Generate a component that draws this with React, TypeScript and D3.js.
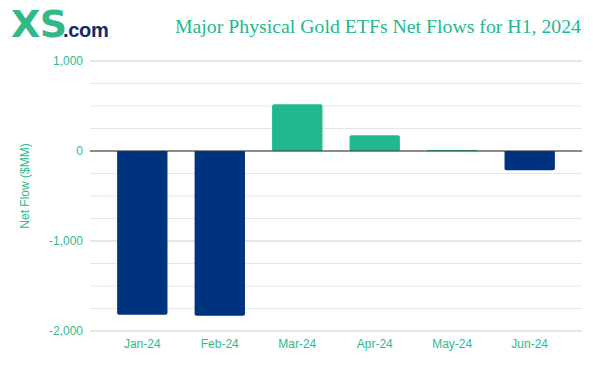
import React from "react";
import * as d3 from "d3";

const months = ["Jan-24", "Feb-24", "Mar-24", "Apr-24", "May-24", "Jun-24"];
const flows = [-1820, -1830, 520, 175, 12, -215];
const majorTicks = [1000, 0, -1000, -2000];
const minorTicks = d3.range(-2000, 1001, 250);

const W = 593;
const H = 371;
const GREEN = "#22b88f";
const NAVY = "#00337f";
const LABEL = "#2dbb8e";

export default function App() {
  const x = d3.scaleBand<string>().domain(months).range([90, 582]).paddingInner(0.35).paddingOuter(0.35);
  const y = d3.scaleLinear().domain([-2000, 1000]).range([331, 61]);
  const fmt = d3.format(",");
  const r = 2;

  const barPath = (m: string, v: number) => {
    const x0 = x(m)!;
    const w = x.bandwidth();
    const y0 = y(0);
    const y1 = y(v);
    const rr = Math.min(r, Math.abs(y1 - y0) / 2);
    if (v >= 0) {
      return `M${x0},${y0}V${y1 + rr}Q${x0},${y1} ${x0 + rr},${y1}H${x0 + w - rr}Q${x0 + w},${y1} ${x0 + w},${y1 + rr}V${y0}Z`;
    }
    return `M${x0},${y0}V${y1 - rr}Q${x0},${y1} ${x0 + rr},${y1}H${x0 + w - rr}Q${x0 + w},${y1} ${x0 + w},${y1 - rr}V${y0}Z`;
  };

  return (
    <svg width={W} height={H} style={{ display: "block", position: "absolute", left: 0, top: 0 }} fontFamily="Liberation Sans, Arial, sans-serif">
      <rect width={W} height={H} fill="#fff" />
      {/* logo */}
      <text x={11} y={37} fontFamily="DejaVu Sans, sans-serif" fontWeight="bold" fontSize={38} fill="#35b888" letterSpacing={-0.5}>XS</text>
      <text x={63} y={37} fontFamily="Liberation Sans, Arial, sans-serif" fontWeight="bold" fontSize={20} fill="#13296b" letterSpacing={-0.3}>.com</text>
      {/* title */}
      <text x={581} y={33} textAnchor="end" fontFamily="Liberation Serif, Times New Roman, serif" fontSize={19.8} fill={GREEN}>
        Major Physical Gold ETFs Net Flows for H1, 2024
      </text>
      {/* grid */}
      {minorTicks.map((t) => (
        <line key={"g" + t} x1={90} x2={582} y1={y(t)} y2={y(t)} stroke={majorTicks.includes(t) ? "#cccccc" : "#e6e6e6"} strokeWidth={1} />
      ))}
      {/* bars */}
      {months.map((m, i) => (
        <path key={m} d={barPath(m, flows[i])} fill={flows[i] >= 0 ? GREEN : NAVY} />
      ))}
      {/* zero line */}
      <line x1={90} x2={582} y1={y(0)} y2={y(0)} stroke="#333" strokeWidth={1} />
      {/* y tick labels */}
      {majorTicks.map((t) => (
        <text key={"t" + t} x={83} y={y(t)} dy="0.35em" textAnchor="end" fontSize={12} fill={LABEL}>
          {t < 0 ? "-" + fmt(-t) : fmt(t)}
        </text>
      ))}
      {/* y axis title */}
      <text transform={`translate(29,186) rotate(-90)`} textAnchor="middle" fontSize={12} fill={LABEL}>
        Net Flow ($MM)
      </text>
      {/* x labels */}
      {months.map((m) => (
        <text key={"x" + m} x={x(m)! + x.bandwidth() / 2} y={348} textAnchor="middle" fontSize={12} fill={LABEL}>
          {m}
        </text>
      ))}
    </svg>
  );
}
